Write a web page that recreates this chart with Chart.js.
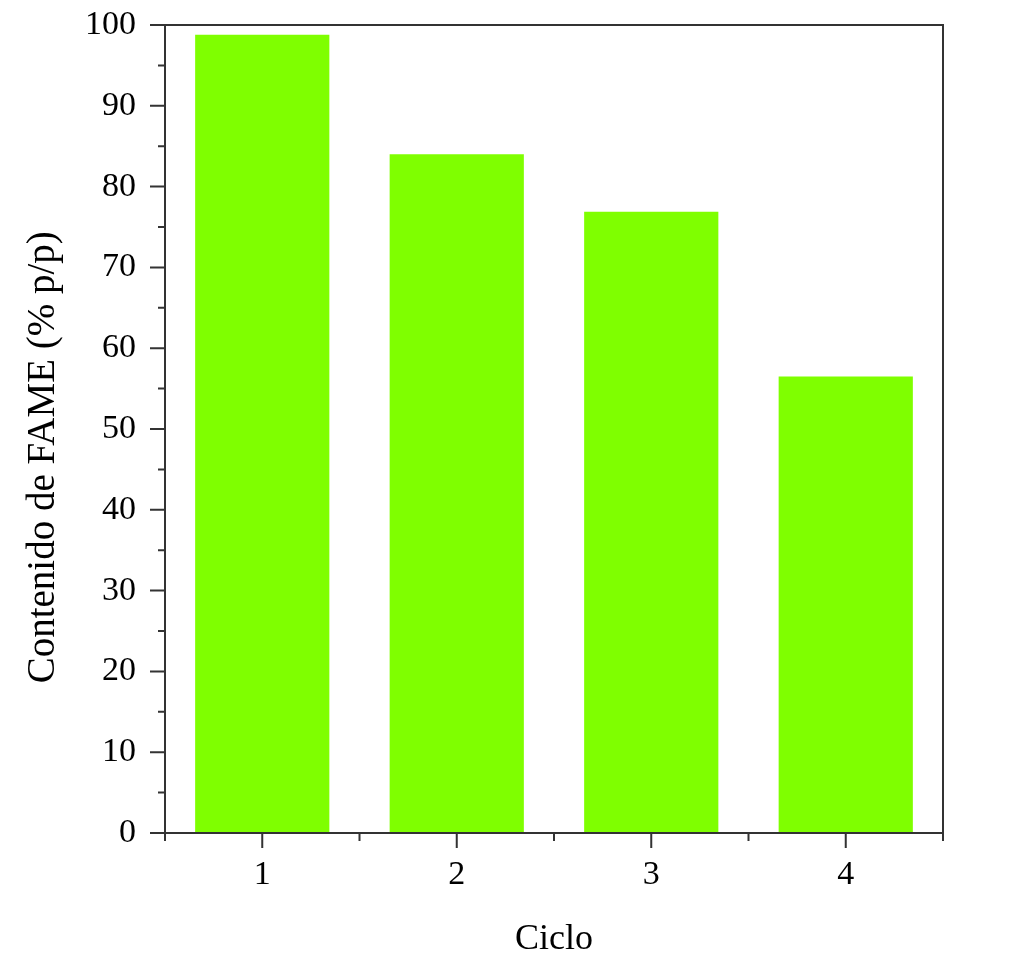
<!DOCTYPE html>
<html>
<head>
<meta charset="utf-8">
<script src="https://cdn.jsdelivr.net/npm/chart.js@4/dist/chart.umd.min.js"></script>
<style>
  html, body { margin: 0; padding: 0; background: #fff; }
  #wrap { width: 1025px; height: 976px; }
</style>
</head>
<body>
<div id="wrap"><canvas id="myChart" width="1025" height="976"></canvas></div>
<script>
const cycles = ['1', '2', '3', '4']
const fameValues = [98.8, 84.0, 76.9, 56.5]
const yTicks = [0, 10, 20, 30, 40, 50, 60, 70, 80, 90, 100]
const yTitle = 'Contenido de FAME (% p/p)'

const axisColor = '#333'
const fontFamily = '"Liberation Serif", "DejaVu Serif", serif'

// frame + ticks like the original (major and minor, outward)
const frameTicks = {
    id: 'frameTicks',
    afterDraw(chart) {
        const ctx = chart.ctx
        const a = chart.chartArea
        const xs = chart.scales.x
        const ys = chart.scales.y
        ctx.save()
        ctx.strokeStyle = axisColor
        ctx.lineWidth = 2
        ctx.strokeRect(a.left, a.top, a.right - a.left, a.bottom - a.top)
        ctx.beginPath()
        for (let v = 0; v <= 100; v += 5) {
            const y = ys.getPixelForValue(v)
            const len = (v % 10 === 0) ? 15 : 7
            ctx.moveTo(a.left, y)
            ctx.lineTo(a.left - len, y)
        }
        for (let i = 0; i < cycles.length; i++) {
            const xc = xs.getPixelForValue(i)
            ctx.moveTo(xc, a.bottom)
            ctx.lineTo(xc, a.bottom + 15)
        }
        for (let i = 0; i <= cycles.length; i++) {
            const xb = xs.getPixelForValue(i - 0.5)
            ctx.moveTo(xb, a.bottom)
            ctx.lineTo(xb, a.bottom + 8)
        }
        ctx.stroke()

        // y title sits a bit below the plot centre in the original
        ctx.fillStyle = '#000'
        ctx.font = '39px ' + fontFamily
        ctx.textAlign = 'center'
        ctx.textBaseline = 'middle'
        ctx.translate(44, ys.getPixelForValue(46.5))
        ctx.rotate(-Math.PI / 2)
        ctx.fillText(yTitle, 0, 0)
        ctx.restore()
    }
}

function drawChart() {
    const ctx = document.getElementById('myChart')

    const data = {
        labels: cycles,
        datasets: [{
            data: fameValues,
            backgroundColor: '#7fff00',
            borderWidth: 0,
            barPercentage: 0.69,
            categoryPercentage: 1.0
        }]
    }

    const config = {
        type: 'bar',
        data: data,
        plugins: [frameTicks],
        options: {
            responsive: false,
            animation: false,
            layout: { padding: { top: 25, right: 82, left: 0, bottom: 0 } },
            plugins: {
                legend: { display: false },
                tooltip: { enabled: false }
            },
            scales: {
                x: {
                    grid: { display: false, drawTicks: false },
                    border: { display: false },
                    ticks: { color: '#000', padding: 22, font: { family: fontFamily, size: 34 } },
                    title: {
                        display: true,
                        text: 'Ciclo',
                        color: '#000',
                        padding: { top: 10, bottom: 15 },
                        font: { family: fontFamily, size: 36 }
                    },
                    afterFit: (s) => { s.height = 143; s.paddingLeft = 0; s.paddingRight = 0 }
                },
                y: {
                    min: 0,
                    max: 100,
                    afterBuildTicks: (s) => { s.ticks = yTicks.map(v => ({ value: v })) },
                    grid: { display: false, drawTicks: false },
                    border: { display: false },
                    ticks: { color: '#000', padding: 29, font: { family: fontFamily, size: 34 } },
                    afterFit: (s) => { s.width = 165; s.paddingTop = 0; s.paddingBottom = 0 }
                }
            }
        }
    }

    new Chart(ctx, config)
}

document.addEventListener('DOMContentLoaded', drawChart)
</script>
</body>
</html>
